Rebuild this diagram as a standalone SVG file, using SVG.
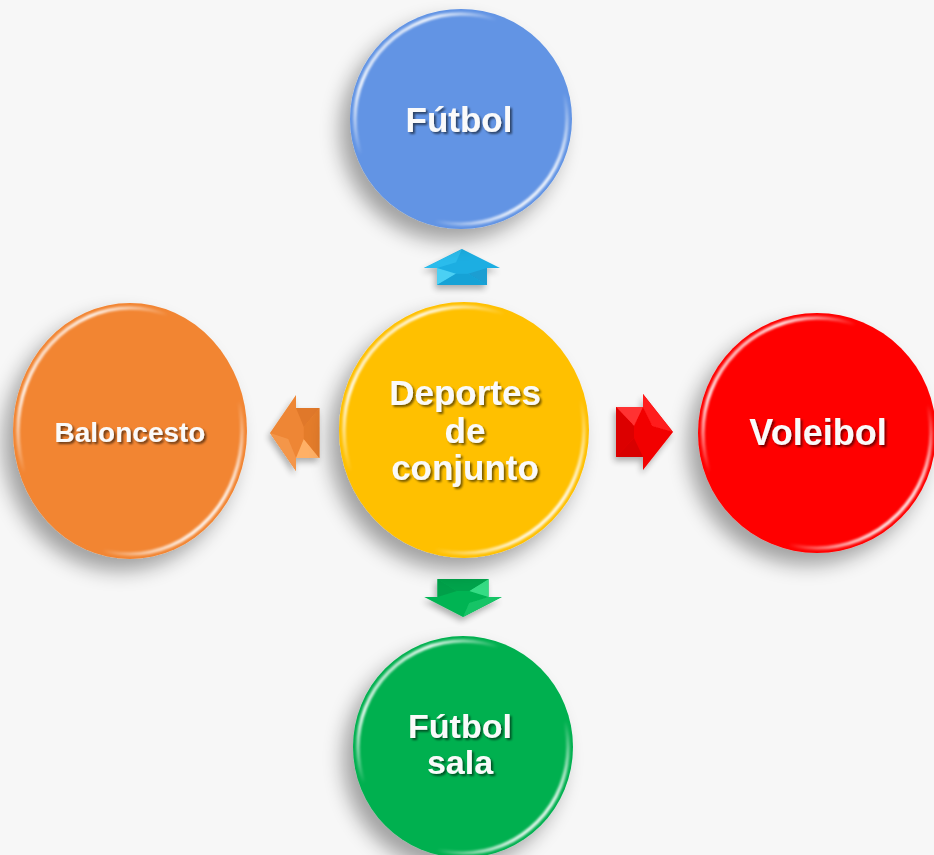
<svg xmlns="http://www.w3.org/2000/svg" width="934" height="855" viewBox="0 0 934 855">
<defs>
<filter id="shadow" x="-30%" y="-30%" width="160%" height="160%">
<feGaussianBlur in="SourceAlpha" stdDeviation="10"/>
<feOffset dx="-10" dy="12" result="b"/>
<feComponentTransfer><feFuncA type="linear" slope="0.35"/></feComponentTransfer>
<feMerge><feMergeNode/><feMergeNode in="SourceGraphic"/></feMerge>
</filter>
<filter id="ashadow" x="-40%" y="-40%" width="180%" height="180%">
<feGaussianBlur in="SourceAlpha" stdDeviation="3"/>
<feOffset dx="-2" dy="4" result="b"/>
<feComponentTransfer><feFuncA type="linear" slope="0.3"/></feComponentTransfer>
<feMerge><feMergeNode/><feMergeNode in="SourceGraphic"/></feMerge>
</filter>
<filter id="tshadow" x="-10%" y="-20%" width="130%" height="150%">
<feGaussianBlur in="SourceAlpha" stdDeviation="1.2"/>
<feOffset dx="1.5" dy="2"/>
<feComponentTransfer><feFuncA type="linear" slope="0.55"/></feComponentTransfer>
<feMerge><feMergeNode/><feMergeNode in="SourceGraphic"/></feMerge>
</filter>
<filter id="soft"><feGaussianBlur stdDeviation="1"/></filter>
<linearGradient id="rim" x1="0" y1="0" x2="1" y2="1">
<stop offset="0" stop-color="#fff" stop-opacity="0"/>
<stop offset="0.18" stop-color="#fff" stop-opacity="0.9"/>
<stop offset="0.35" stop-color="#fff" stop-opacity="0"/>
<stop offset="0.68" stop-color="#fff" stop-opacity="0"/>
<stop offset="0.85" stop-color="#fff" stop-opacity="0.9"/>
<stop offset="1" stop-color="#fff" stop-opacity="0"/>
</linearGradient>
<g id="arrow">
<polygon style="fill:var(--b)" points="0,0 38,20 25,20 25,38 -25,38 -25,20 -38,20"/>
<polygon style="fill:var(--h)" points="-38,20 0,0 -6,14 -25,20"/>
<polygon style="fill:var(--l)" points="-25,20 -25,38 -6,26"/>
<polygon style="fill:var(--d)" points="25,20 25,38 6,26"/>
<polygon style="fill:var(--m)" points="-25,38 25,38 6,26 -6,26"/>
</g>
</defs>
<style>
.node ellipse.body{filter:url(#shadow)}
.rim{fill:none;stroke:url(#rim);stroke-width:3.5;filter:url(#soft)}
.lbl{font-family:"Liberation Sans",Arial,sans-serif;font-weight:bold;fill:#fafafa;text-anchor:middle;filter:url(#tshadow)}
.blue{--b:#1eaee2;--h:#2cbcec;--l:#4cd0f4;--d:#1a9ed2;--m:#19a2d6}
.orange{--b:#ee8634;--h:#f4964a;--l:#ffb066;--d:#e0782a;--m:#e47c2c}
.red{--b:#f20000;--h:#ff1a1a;--l:#ff3030;--d:#d80000;--m:#dc0000}
.green{--b:#00b452;--h:#14c466;--l:#36dc84;--d:#00a04a;--m:#00a44c}
</style>
<rect width="934" height="855" fill="#f7f7f7"/>
<g id="connectors">
<g class="blue" filter="url(#ashadow)"><use href="#arrow" transform="translate(462,249) scale(1,0.95)"/></g>
<g class="green" filter="url(#ashadow)"><use href="#arrow" transform="translate(463,617) rotate(180) scale(1.02,1)"/></g>
<g class="orange" filter="url(#ashadow)"><use href="#arrow" transform="translate(270,433) rotate(-90) scale(1,1.3)"/></g>
<g class="red" filter="url(#ashadow)"><use href="#arrow" transform="translate(673,432) rotate(90) scale(1,1.5)"/></g>
</g>
<g id="futbol" class="node">
<ellipse class="body" cx="461" cy="119" rx="111" ry="110" fill="#6294e4"/>
<ellipse class="rim" cx="461" cy="119" rx="106" ry="105"/>
<text class="lbl" x="459" y="132" font-size="35">Fútbol</text>
</g>
<g id="baloncesto" class="node">
<ellipse class="body" cx="130" cy="431" rx="117" ry="128" fill="#f28533"/>
<ellipse class="rim" cx="130" cy="431" rx="112" ry="123"/>
<text class="lbl" x="130" y="442" font-size="28">Baloncesto</text>
</g>
<g id="voleibol" class="node">
<ellipse class="body" cx="817" cy="433" rx="119" ry="120" fill="#ff0000"/>
<ellipse class="rim" cx="817" cy="433" rx="114" ry="115"/>
<text class="lbl" x="818" y="445" font-size="36">Voleibol</text>
</g>
<g id="futbol-sala" class="node">
<ellipse class="body" cx="463" cy="747" rx="110" ry="111" fill="#00b050"/>
<ellipse class="rim" cx="463" cy="747" rx="105" ry="106"/>
<text class="lbl" x="460" y="738" font-size="34">Fútbol</text>
<text class="lbl" x="460" y="774" font-size="34">sala</text>
</g>
<g id="deportes" class="node">
<ellipse class="body" cx="464" cy="430" rx="125" ry="128" fill="#ffc000"/>
<ellipse class="rim" cx="464" cy="430" rx="120" ry="123"/>
<text class="lbl" x="465" y="405" font-size="35">Deportes</text>
<text class="lbl" x="465" y="443" font-size="35">de</text>
<text class="lbl" x="465" y="480" font-size="35">conjunto</text>
</g>
</svg>
